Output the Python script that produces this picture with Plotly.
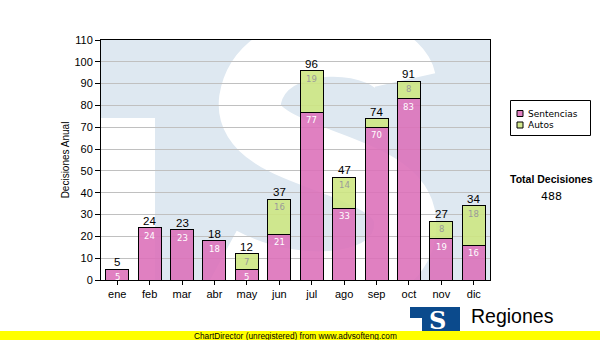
import plotly.graph_objects as go

# Monthly decisions, split by type
meses = ["ene", "feb", "mar", "abr", "may", "jun", "jul", "ago", "sep", "oct", "nov", "dic"]
sentencias = [5, 24, 23, 18, 5, 21, 77, 33, 70, 83, 19, 16]
autos = [0, 0, 0, 0, 7, 16, 19, 14, 4, 8, 8, 18]
series_names = ["Sentencias", "Autos"]
totales = [s + a for s, a in zip(sentencias, autos)]
total_decisiones = sum(totales)

W, H = 600, 340
ML, MR, MT, MB = 101, 110, 40, 60
PW, PH = W - ML - MR, H - MT - MB

def px(x):
    return (x - ML) / PW

def py(y):
    return (H - MB - y) / PH

PINK = "rgba(220,110,184,0.88)"
GREEN = "rgba(205,230,128,0.88)"
BG_BLUE = "#dee8f1"

fig = go.Figure()
fig.add_trace(go.Bar(x=meses, y=sentencias, name=series_names[0],
                     marker=dict(color=PINK, line=dict(color="black", width=1))))
fig.add_trace(go.Bar(x=meses, y=autos, name=series_names[1],
                     marker=dict(color=GREEN, line=dict(color="black", width=1))))

annotations = []
# totals above each stack
for m, t in zip(meses, totales):
    annotations.append(dict(x=m, y=t, text=str(t), showarrow=False, yanchor="bottom",
                            yshift=-1, font=dict(family="Liberation Sans", size=11.5, color="black")))
# segment values near the top of each segment
for m, s, a in zip(meses, sentencias, autos):
    if s >= 5:
        annotations.append(dict(x=m, y=s, text=str(s), showarrow=False, yanchor="top", yshift=-1,
                                font=dict(family="DejaVu Sans", size=8.5, color="white")))
    if a >= 5:
        annotations.append(dict(x=m, y=s + a, text=str(a), showarrow=False, yanchor="top", yshift=-1,
                                font=dict(family="DejaVu Sans", size=8.5, color="#9a9a9a")))

def paper_text(x, y, text, family, size, color="black", xanchor="center"):
    return dict(xref="paper", yref="paper", x=px(x), y=py(y), text=text, xanchor=xanchor,
                yanchor="middle", showarrow=False, font=dict(family=family, size=size, color=color))

# legend entries
annotations.append(paper_text(526, 113.5, series_names[0], "DejaVu Sans", 9, xanchor="left"))
annotations.append(paper_text(526, 125, series_names[1], "DejaVu Sans", 9, xanchor="left"))
# side summary
annotations.append(paper_text(551, 178.5, "<b>Total Decisiones</b>", "Liberation Sans", 10.5))
annotations.append(paper_text(551, 196, str(total_decisiones), "DejaVu Sans", 11))
# footer: logo lettering and banner
annotations.append(paper_text(437, 320, "<b>S</b>", "DejaVu Serif", 24, color="white"))
annotations.append(paper_text(469, 316, "Regiones", "Liberation Sans", 19.5, xanchor="left"))
annotations.append(paper_text(295.5, 335.5, "ChartDirector (unregistered) from www.advsofteng.com",
                              "Liberation Sans", 8.3))

def rect(x0, y0, x1, y1, color, layer="below", line=None):
    return dict(type="rect", xref="paper", yref="paper", x0=px(x0), x1=px(x1), y0=py(y0), y1=py(y1),
                fillcolor=color, line=line or dict(width=0), layer=layer)

def pt(x, y):
    return f"{px(x):.4f},{py(y):.4f}"

# large "S" watermark in the plot background
s_path = ("M " + pt(405, 80) +
          " C " + pt(395, 36) + " " + pt(262, 26) + " " + pt(250, 100) +
          " C " + pt(242, 162) + " " + pt(400, 158) + " " + pt(405, 220) +
          " C " + pt(410, 288) + " " + pt(300, 300) + " " + pt(222, 258))

border = dict(color="black", width=1)
shapes = [
    rect(101, 40, 490, 280, BG_BLUE),
    rect(101, 118, 155, 280, "white"),
    dict(type="path", xref="paper", yref="paper", path=s_path, layer="below",
         line=dict(color="white", width=62)),
    # legend box and swatches
    rect(510.5, 100.5, 590.5, 135.5, "white", layer="above", line=border),
    rect(517, 110.5, 523, 116.5, PINK, layer="above", line=border),
    rect(517, 122, 523, 128, GREEN, layer="above", line=border),
    # footer banner and logo block
    rect(0, 331, 600, 340, "#ffff00", layer="above"),
    rect(410, 307, 460, 331, "#0b4a8c", layer="above"),
    rect(410, 318, 422, 331, "white", layer="above"),
]

fig.update_layout(
    barmode="stack",
    bargap=0.29,
    width=W, height=H,
    margin=dict(l=ML, r=MR, t=MT, b=MB, autoexpand=False),
    paper_bgcolor="white",
    plot_bgcolor="rgba(0,0,0,0)",
    font=dict(family="Liberation Sans", size=11, color="black"),
    showlegend=False,
    annotations=annotations,
    shapes=shapes,
)
fig.update_xaxes(showline=True, linecolor="black", linewidth=1, mirror=True,
                 ticks="outside", ticklen=4, tickcolor="black",
                 tickfont=dict(family="Liberation Sans", size=11, color="black"))
fig.update_yaxes(range=[0, 110], dtick=10, showline=True, linecolor="black", linewidth=1, mirror=True,
                 ticks="outside", ticklen=5, tickcolor="black",
                 showgrid=True, gridcolor="#c0c0c0", gridwidth=1, zeroline=False,
                 tickfont=dict(family="Liberation Sans", size=11, color="black"),
                 title=dict(text="Decisiones Anual", standoff=2,
                            font=dict(family="Liberation Sans", size=10, color="black")))

fig.write_html("out.html")
